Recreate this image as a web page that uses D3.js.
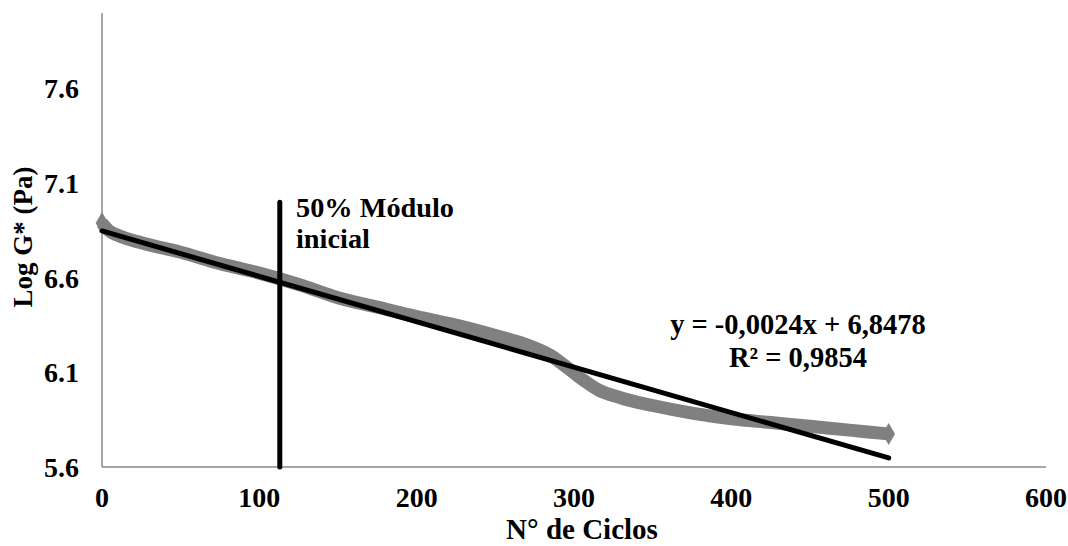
<!DOCTYPE html>
<html>
<head>
<meta charset="utf-8">
<script src="https://cdn.jsdelivr.net/npm/d3@7"></script>
<style>
  html, body { margin: 0; padding: 0; background: #fff; }
  text { font-family: "Liberation Serif", "Times New Roman", serif; font-weight: bold; fill: #000; }
</style>
</head>
<body>
<svg id="chart" width="1068" height="546"></svg>
<script>
// ---- data ----
const cycles = [0, 5, 10, 25, 50, 75, 100, 125, 150, 175, 200, 225, 250, 272, 285, 295, 305, 315, 330, 350, 375, 400, 425, 450, 475, 500];
const logG   = [6.89, 6.845, 6.825, 6.785, 6.735, 6.675, 6.625, 6.565, 6.495, 6.445, 6.395, 6.35, 6.295, 6.24, 6.19, 6.13, 6.065, 6.01, 5.965, 5.925, 5.885, 5.855, 5.835, 5.815, 5.795, 5.775];
const trendX = [0, 500];
const trendY = [6.8478, 5.6478];
const markerX = [113, 113];
const markerY = [5.6, 7.0];
const xTicks = [0, 100, 200, 300, 400, 500, 600];
const yTicks = [5.6, 6.1, 6.6, 7.1, 7.6];
const yTickLabels = ["5.6", "6.1", "6.6", "7.1", "7.6"];
const xTitle = "N° de Ciclos";
const yTitle = "Log G* (Pa)";
const noteLines = ["50% Módulo", "inicial"];
const eqLines = ["y = -0,0024x + 6,8478", "R² = 0,9854"];

(function () {
// ---- layout ----
const svg = d3.select("#chart");
const pL = 102, pR = 1046, pT = 13, pB = 467;
const x = d3.scaleLinear().domain([0, 600]).range([pL, pR]);
const y = d3.scaleLinear().domain([5.6, 8.0]).range([pB, pT]);

// axes lines
svg.append("line").attr("x1", pL).attr("x2", pL).attr("y1", pT).attr("y2", pB)
  .attr("stroke", "#898989").attr("stroke-width", 1.5);
svg.append("line").attr("x1", pL).attr("x2", pR).attr("y1", pB).attr("y2", pB)
  .attr("stroke", "#898989").attr("stroke-width", 1.5);

// tick labels
const fs = 28;
svg.append("g").selectAll("text").data(yTicks).join("text")
  .attr("x", pL - 23).attr("y", d => y(d)).attr("dy", "0.35em")
  .attr("text-anchor", "end").attr("font-size", fs)
  .text((d, i) => yTickLabels[i]);
svg.append("g").selectAll("text").data(xTicks).join("text")
  .attr("x", d => x(d)).attr("y", 507)
  .attr("text-anchor", "middle").attr("font-size", fs)
  .text(d => d);

// titles
svg.append("text").attr("x", 582).attr("y", 539).attr("text-anchor", "middle")
  .attr("font-size", 29).text(xTitle);
svg.append("text").attr("transform", `translate(32,${237}) rotate(-90)`)
  .attr("text-anchor", "middle").attr("font-size", 27).text(yTitle);

// gray data series
const pts = cycles.map((c, i) => [c, logG[i]]);
const line = d3.line().x(d => x(d[0])).y(d => y(d[1])).curve(d3.curveMonotoneX);
svg.append("path").datum(pts).attr("d", line)
  .attr("fill", "none").attr("stroke", "#808080").attr("stroke-width", 13)
  .attr("stroke-linejoin", "round");
svg.append("g").selectAll("path").data([pts[0], pts[pts.length - 1]]).join("path")
  .attr("transform", d => `translate(${x(d[0])},${y(d[1])})`)
  .attr("d", d3.symbol(d3.symbolDiamond, 140))
  .attr("fill", "#808080");

// trend line
const tpts = trendX.map((v, i) => [v, trendY[i]]);
svg.append("path").datum(tpts).attr("d", d3.line().x(d => x(d[0])).y(d => y(d[1])))
  .attr("stroke", "#000").attr("stroke-width", 5).attr("stroke-linecap", "round").attr("fill", "none");

// vertical marker line
const mpts = markerX.map((v, i) => [v, markerY[i]]);
svg.append("path").datum(mpts).attr("d", d3.line().x(d => x(d[0])).y(d => y(d[1])))
  .attr("stroke", "#000").attr("stroke-width", 5).attr("stroke-linecap", "round").attr("fill", "none");

// annotation
svg.append("g").selectAll("text").data(noteLines).join("text")
  .attr("x", 296).attr("y", (d, i) => 217 + i * 31)
  .attr("font-size", 28.3).text(d => d);

// equation
svg.append("g").selectAll("text").data(eqLines).join("text")
  .attr("x", 798).attr("y", (d, i) => 334 + i * 33)
  .attr("text-anchor", "middle").attr("font-size", 28.5).attr("letter-spacing", 0)
  .text(d => d);
})();
</script>
</body>
</html>
